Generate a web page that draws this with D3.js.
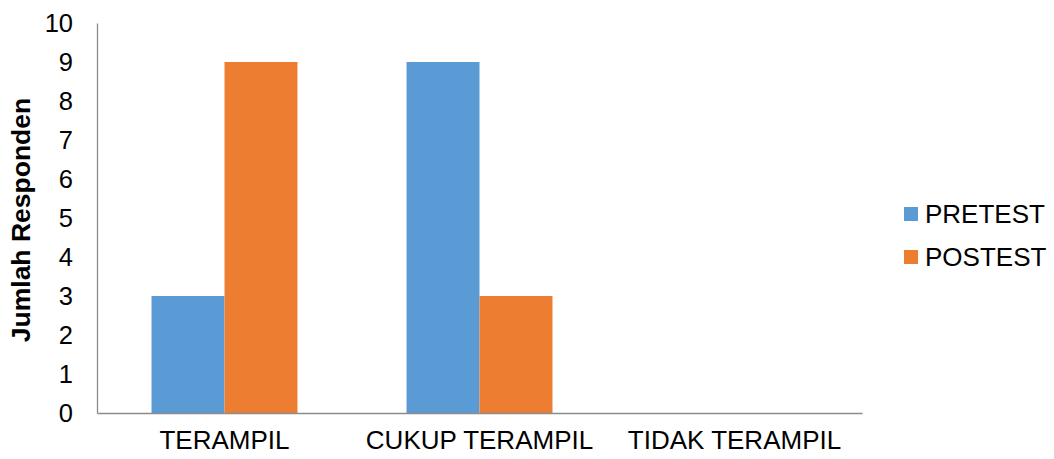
<!DOCTYPE html>
<html>
<head>
<meta charset="utf-8">
<script src="https://cdn.jsdelivr.net/npm/d3@7"></script>
<style>
  html, body { margin: 0; padding: 0; background: #fff; }
  svg { display: block; font-family: "Liberation Sans", Arial, sans-serif; }
</style>
</head>
<body>
<svg id="chart" width="1054" height="459"></svg>
<script>
// Response categories and respondent counts per test
const categories = ["TERAMPIL", "CUKUP TERAMPIL", "TIDAK TERAMPIL"];
const seriesNames = ["PRETEST", "POSTEST"];
const pretest = [3, 9, 0];
const postest = [9, 3, 0];
const yTicks = [0, 1, 2, 3, 4, 5, 6, 7, 8, 9, 10];
const colors = ["#5B9BD5", "#ED7D31"];

const seriesValues = [pretest, postest];
const svg = d3.select("#chart");
const margin = { left: 97, right: 192, top: 23, bottom: 46 };
const W = 1054, H = 459;

const x0 = d3.scaleBand().domain(categories)
  .range([margin.left, W - margin.right]).padding(0);
const x1 = d3.scaleBand().domain(seriesNames)
  .range([0, x0.bandwidth()]).paddingInner(0).paddingOuter(0.747);
const y = d3.scaleLinear().domain([0, 10]).range([H - margin.bottom, margin.top]);

// Bars
const groups = svg.append("g").selectAll("g")
  .data(categories).join("g")
  .attr("transform", d => `translate(${x0(d)},0)`);

groups.selectAll("rect")
  .data((d, i) => seriesNames.map((s, k) => ({ s, v: seriesValues[k][i], k })))
  .join("rect")
  .attr("x", d => x1(d.s))
  .attr("width", x1.bandwidth())
  .attr("y", d => y(d.v))
  .attr("height", d => y(0) - y(d.v))
  .attr("fill", d => colors[d.k]);

// Y axis
const yAxis = svg.append("g")
  .attr("transform", `translate(${margin.left},0)`)
  .call(d3.axisLeft(y).tickValues(yTicks).tickSize(0).tickPadding(24).tickFormat(d3.format("d")));
yAxis.select(".domain").attr("stroke", "#8c8c8c").attr("stroke-width", 1.3);
yAxis.selectAll("text").attr("font-size", 25.5).attr("fill", "#000")
  .attr("font-family", "Liberation Sans, Arial, sans-serif");

// X axis
const xAxis = svg.append("g")
  .attr("transform", `translate(0,${y(0)})`)
  .call(d3.axisBottom(x0).tickSize(0).tickPadding(18));
xAxis.select(".domain").attr("stroke", "#8c8c8c").attr("stroke-width", 1.3);
xAxis.selectAll("text").attr("font-size", 26).attr("fill", "#000")
  .attr("font-family", "Liberation Sans, Arial, sans-serif");

// Y axis title
svg.append("text")
  .attr("transform", `translate(30,220) rotate(-90)`)
  .attr("text-anchor", "middle")
  .attr("font-size", 26.5)
  .attr("font-weight", "bold")
  .text("Jumlah Responden");

// Legend
const legend = svg.append("g").attr("transform", "translate(904,207)");
const items = legend.selectAll("g").data(seriesNames).join("g")
  .attr("transform", (d, i) => `translate(0,${i * 43})`);
items.append("rect").attr("width", 14).attr("height", 14)
  .attr("fill", (d, i) => colors[i]);
items.append("text").attr("x", 21).attr("y", 7).attr("dy", "0.35em")
  .attr("font-size", 26).text(d => d);
</script>
</body>
</html>
